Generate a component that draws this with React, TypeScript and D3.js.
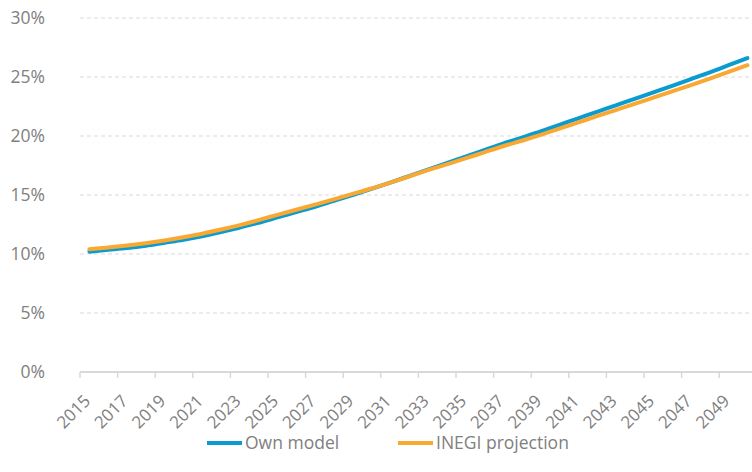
import React from 'react';
import * as d3 from 'd3';

const years = d3.range(2015, 2051).map(String);

const ownModel = [
  10.2, 10.35, 10.5, 10.7, 10.95, 11.2, 11.5, 11.85, 12.25, 12.65,
  13.1, 13.55, 14.0, 14.5, 15.0, 15.52, 16.05, 16.6, 17.15, 17.7,
  18.25, 18.8, 19.35, 19.85, 20.4, 20.95, 21.5, 22.05, 22.6, 23.15,
  23.7, 24.25, 24.82, 25.4, 26.0, 26.6,
];

const inegi = [
  10.4, 10.55, 10.72, 10.92, 11.15, 11.42, 11.72, 12.07, 12.45, 12.87,
  13.32, 13.75, 14.18, 14.63, 15.1, 15.55, 16.05, 16.57, 17.1, 17.6,
  18.1, 18.62, 19.13, 19.6, 20.1, 20.62, 21.15, 21.68, 22.2, 22.72,
  23.25, 23.78, 24.32, 24.87, 25.43, 26.0,
];

const yTicks = [0, 5, 10, 15, 20, 25, 30];

const series = [
  { name: 'Own model', values: ownModel, color: '#0a9bd0' },
  { name: 'INEGI projection', values: inegi, color: '#f9a832' },
];

const width = 752;
const height = 472;
const font = '"Open Sans", "Noto Sans", sans-serif';
const textColor = '#808080';
const gridColor = '#d9d9d9';

const App: React.FC = () => {
  const x = d3.scaleBand<string>().domain(years).range([80, 756.8]).padding(0);
  const y = d3.scaleLinear().domain([0, 30]).range([372, 18]);
  const cx = (yr: string) => (x(yr) ?? 0) + x.bandwidth() / 2;

  const line = d3.line<number>()
    .x((_, i) => cx(years[i]))
    .y(d => y(d))
    .curve(d3.curveMonotoneX);

  // tick marks sit between categories, every 2 years
  const tickYears = years.filter((_, i) => i % 2 === 0);

  return (
    <svg width={width} height={height} style={{ position: 'absolute', left: 0, top: 0, background: 'white' }}>
      {yTicks.filter(t => t > 0).map(t => (
        <line key={t} x1={80} x2={752} y1={y(t)} y2={y(t)} stroke={gridColor} strokeWidth={1} strokeDasharray="4 3" />
      ))}
      {yTicks.map(t => (
        <text key={t} x={45} y={y(t)} dy="0.35em" textAnchor="end" fontFamily={font} fontSize={17.5} fill={textColor}>
          {t}%
        </text>
      ))}
      <line x1={80} x2={752} y1={y(0)} y2={y(0)} stroke={gridColor} strokeWidth={2} />
      {tickYears.map(yr => (
        <line key={yr} x1={x(yr)} x2={x(yr)} y1={y(0)} y2={y(0) + 6} stroke={gridColor} strokeWidth={1.5} />
      ))}
      {tickYears.map(yr => (
        <text key={yr} transform={`translate(${cx(yr) + 2},${402}) rotate(-45)`} textAnchor="end"
          fontFamily={font} fontSize={17} fill={textColor}>
          {yr}
        </text>
      ))}
      {series.map(s => (
        <path key={s.name} d={line(s.values) ?? ''} fill="none" stroke={s.color} strokeWidth={4} strokeLinecap="round" />
      ))}
      {series.map((s, i) => {
        const lx = i === 0 ? 207 : 398;
        return (
          <g key={s.name}>
            <line x1={lx} x2={lx + 35} y1={443} y2={443} stroke={s.color} strokeWidth={4} />
            <text x={lx + 38} y={443} dy="0.35em" fontFamily={font} fontSize={17.5} fill={textColor}>{s.name}</text>
          </g>
        );
      })}
    </svg>
  );
};

export default App;
